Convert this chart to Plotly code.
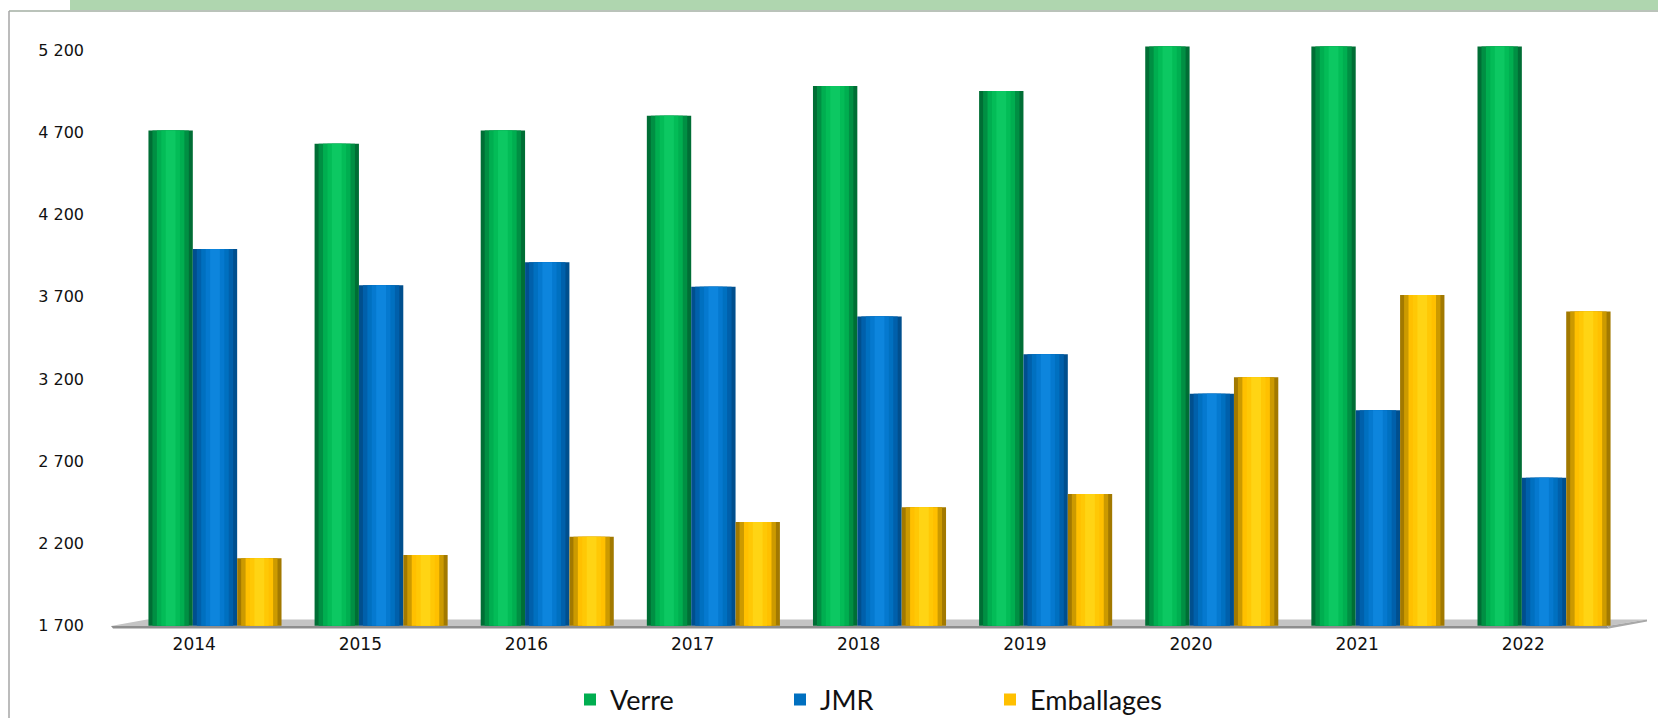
import plotly.graph_objects as go

# ---------------- data ----------------
years = ["2014", "2015", "2016", "2017", "2018", "2019", "2020", "2021", "2022"]
verre = [4710, 4630, 4710, 4800, 4980, 4950, 5220, 5220, 5220]
jmr = [3990, 3770, 3910, 3760, 3580, 3350, 3110, 3010, 2600]
emballages = [2110, 2130, 2240, 2330, 2420, 2500, 3210, 3710, 3610]
y_tick_vals = [1700, 2200, 2700, 3200, 3700, 4200, 4700, 5200]
y_tick_text = ["1 700", "2 200", "2 700", "3 200", "3 700", "4 200", "4 700", "5 200"]

# ---------------- geometry / style ----------------
W, H = 1658, 718
ML, MR, MT, MB = 107, 1, 17, 89
XR = [-0.65, 8.68]
YR = [1680, 5400]
BASE = 1700
BAR_W = 0.267

PW = W - ML - MR
PH = H - MT - MB


def dx(p):  # pixel -> x data
    return XR[0] + (p - ML) / PW * (XR[1] - XR[0])


def dy(q):  # pixel -> y data
    return YR[0] + (H - MB - q) / PH * (YR[1] - YR[0])


def px(p):  # pixel -> paper x
    return (p - ML) / PW


def py(q):  # pixel -> paper y
    return (H - MB - q) / PH


fracs = [1.0, 0.82, 0.62, 0.42, 0.22]
series = [
    ("Verre", verre, ["#006E35", "#008F43", "#00AE50", "#03BC57", "#0CC862"], -BAR_W),
    ("JMR", jmr, ["#004F8E", "#0060AB", "#0070C0", "#0579CF", "#0D85DD"], 0.0),
    ("Emballages", emballages, ["#A27900", "#CC9A00", "#FFC000", "#FFC805", "#FFD414"], BAR_W),
]

fig = go.Figure()
for name, vals, cols, off in series:
    xs = [i + off for i in range(len(years))]
    lengths = [v - BASE for v in vals]
    for k, (f, c) in enumerate(zip(fracs, cols)):
        fig.add_trace(go.Bar(
            x=xs, y=lengths, base=BASE, width=BAR_W * f,
            marker=dict(color=c, line=dict(width=0)),
            name=name, legendgroup=name, showlegend=(k == 2),
            customdata=vals, hovertemplate=name + ": %{customdata}<extra></extra>",
        ))

shapes = []
# green band at top
shapes.append(dict(type="rect", xref="paper", yref="paper",
                   x0=px(70), x1=px(W), y0=py(10), y1=py(0),
                   fillcolor="#AFD6AF", line=dict(width=0), layer="below"))
# chart border (left + top)
shapes.append(dict(type="line", xref="paper", yref="paper",
                   x0=px(9), x1=px(W), y0=py(11), y1=py(11),
                   line=dict(color="#A3AFA3", width=1.5)))
shapes.append(dict(type="line", xref="paper", yref="paper",
                   x0=px(9), x1=px(9), y0=py(11), y1=py(H),
                   line=dict(color="#A6A6A6", width=1.5)))
# floor (3D base plane)
floor_path = "M {} {} L {} {} L {} {} L {} {} Z".format(
    dx(111), dy(626), dx(147), dy(619.5), dx(1647), dy(619.5), dx(1607), dy(626))
shapes.append(dict(type="path", xref="x", yref="y", path=floor_path,
                   fillcolor="#C4C4C4", line=dict(width=0), layer="below"))
edge_path = "M {} {} L {} {} L {} {} L {} {} Z".format(
    dx(111), dy(626), dx(1607), dy(626), dx(1609), dy(628.5), dx(113), dy(628.5))
shapes.append(dict(type="path", xref="x", yref="y", path=edge_path,
                   fillcolor="#8E8E8E", line=dict(width=0), layer="below"))
right_path = "M {} {} L {} {} L {} {} L {} {} Z".format(
    dx(1607), dy(626), dx(1647), dy(619.5), dx(1647), dy(621.5), dx(1609), dy(628.5))
shapes.append(dict(type="path", xref="x", yref="y", path=right_path,
                   fillcolor="#A8A8A8", line=dict(width=0), layer="below"))

fig.update_layout(
    width=W, height=H,
    margin=dict(l=ML, r=MR, t=MT, b=MB, autoexpand=False),
    paper_bgcolor="white", plot_bgcolor="rgba(0,0,0,0)",
    barmode="overlay",
    shapes=shapes,
    font=dict(family="DejaVu Sans", color="#111111"),
    xaxis=dict(
        range=XR, tickmode="array",
        tickvals=[i - 0.125 for i in range(len(years))], ticktext=years,
        showgrid=False, zeroline=False, showline=False, ticks="",
        tickfont=dict(family="DejaVu Sans", size=17, color="#111111"),
        ticklabelstandoff=3,
    ),
    yaxis=dict(
        range=YR, tickmode="array", tickvals=y_tick_vals, ticktext=y_tick_text,
        showgrid=False, zeroline=False, showline=False, ticks="",
        tickfont=dict(family="DejaVu Sans", size=16, color="#111111"),
        ticklabelstandoff=22,
    ),
    legend=dict(
        orientation="h", x=px(570), y=py(700), xanchor="left", yanchor="middle",
        font=dict(family="Lato", size=27, color="#111111"),
        entrywidth=165, entrywidthmode="pixels", traceorder="normal",
        bgcolor="rgba(0,0,0,0)",
    ),
    showlegend=True,
)

fig.write_html("out.html", config={"displayModeBar": False},
               post_script="document.body.style.margin='0';document.body.style.overflow='hidden';")
